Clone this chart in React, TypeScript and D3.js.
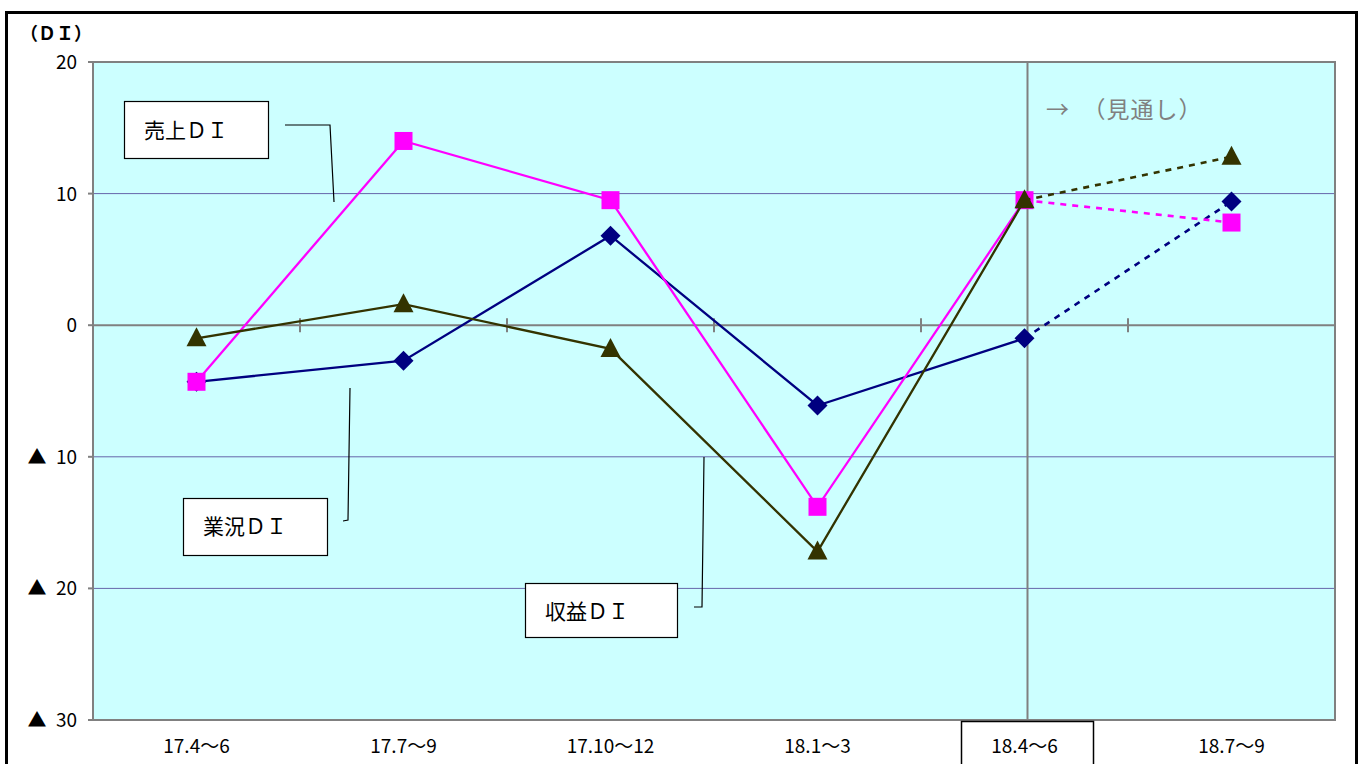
import React from 'react'
import * as d3 from 'd3'

// categories (quarters) and DI values
const periods = ['17.4～6', '17.7～9', '17.10～12', '18.1～3', '18.4～6', '18.7～9']
const gyokyoDI = [-4.3, -2.7, 6.8, -6.1, -1.0, 9.4]
const uriageDI = [-4.3, 14.0, 9.5, -13.8, 9.5, 7.8]
const shuekiDI = [-1.0, 1.6, -1.8, -17.2, 9.5, 12.8]
const yTicks = [20, 10, 0, -10, -20, -30]
const forecastFrom = '18.4～6'

const W = 1363, H = 764
const margin = { top: 62, right: 28, bottom: 44, left: 93 }
const font = '"Noto Sans CJK JP", "Noto Sans", sans-serif'

const series = [
  { name: '業況ＤＩ', values: gyokyoDI, color: '#000080', marker: 'diamond' },
  { name: '売上ＤＩ', values: uriageDI, color: '#FF00FF', marker: 'square' },
  { name: '収益ＤＩ', values: shuekiDI, color: '#333300', marker: 'triangle' },
]

function Marker({ type, x, y, color }: { type: string, x: number, y: number, color: string }) {
  if (type === 'diamond') {
    return <path d={`M${x},${y - 10}L${x + 10},${y}L${x},${y + 10}L${x - 10},${y}Z`} fill={color} />
  }
  if (type === 'square') {
    return <rect x={x - 9} y={y - 9} width={18} height={18} fill={color} />
  }
  return <path d={`M${x},${y - 11}L${x + 10},${y + 8}L${x - 10},${y + 8}Z`} fill={color} />
}

export default function App() {
  const x0 = margin.left, x1 = W - margin.right
  const y0 = margin.top, y1 = H - margin.bottom
  const x = d3.scaleBand().domain(periods).range([x0, x1])
  const y = d3.scaleLinear().domain([20, -30]).range([y0, y1])
  const cx = (p: string) => (x(p) as number) + x.bandwidth() / 2
  const fIdx = periods.indexOf(forecastFrom)
  const line = d3.line<[number, number]>().x(d => d[0]).y(d => d[1])

  const yLabel = (v: number) => (v < 0 ? `▲\u2002${-v}` : `${v}`)

  return (
    <svg width={W} height={H} style={{ position: 'absolute', left: 0, top: 0, background: '#fff' }}
      fontFamily={font}>
      {/* outer frame */}
      <rect x={6.5} y={12.5} width={1350} height={H} fill="none" stroke="#000" strokeWidth={3} />

      {/* plot area */}
      <rect x={x0} y={y0} width={x1 - x0} height={y1 - y0} fill="#CCFFFF" />
      {yTicks.filter(v => v !== 20 && v !== -30 && v !== 0).map(v => (
        <line key={v} x1={x0} x2={x1} y1={y(v)} y2={y(v)} stroke="#6666AA" strokeWidth={1} />
      ))}
      {/* zero line with category ticks */}
      <line x1={x0} x2={x1} y1={y(0)} y2={y(0)} stroke="#808080" strokeWidth={2} />
      {periods.slice(1).map(p => (
        <line key={p} x1={x(p)} x2={x(p)} y1={y(0) - 7} y2={y(0) + 7} stroke="#808080" strokeWidth={2} />
      ))}
      {/* forecast divider */}
      <line x1={cx(forecastFrom) + 3} x2={cx(forecastFrom) + 3} y1={y0} y2={y1} stroke="#808080" strokeWidth={2} />
      <rect x={x0} y={y0} width={x1 - x0} height={y1 - y0} fill="none" stroke="#808080" strokeWidth={2} />
      {yTicks.map(v => (
        <line key={v} x1={x0 - 5} x2={x0} y1={y(v)} y2={y(v)} stroke="#808080" strokeWidth={2} />
      ))}

      {/* y labels */}
      <text x={20} y={40} fontSize={18} fontWeight="bold" fill="#000">（ＤＩ）</text>
      {yTicks.map(v => (
        <text key={v} x={77} y={y(v) + 7} fontSize={19} textAnchor="end" fill="#000">{yLabel(v)}</text>
      ))}

      {/* x labels */}
      {periods.map(p => (
        <text key={p} x={cx(p)} y={753} fontSize={19} textAnchor="middle" fill="#000">{p}</text>
      ))}
      <rect x={cx(forecastFrom) - 63} y={721.5} width={132} height={50} fill="none" stroke="#000" strokeWidth={1.5} />

      <text x={1046} y={118} fontSize={23} fill="#808080" letterSpacing={1}>→　（見通し）</text>

      {/* series lines */}
      {series.map(s => {
        const pts: [number, number][] = s.values.map((v, i) => [cx(periods[i]), y(v)])
        return (
          <g key={s.name}>
            <path d={line(pts.slice(0, fIdx + 1)) as string} fill="none" stroke={s.color} strokeWidth={2.3} />
            <path d={line(pts.slice(fIdx)) as string} fill="none" stroke={s.color} strokeWidth={2.6}
              strokeDasharray="6,6" />
            {pts.map((pt, i) => <Marker key={i} type={s.marker} x={pt[0]} y={pt[1]} color={s.color} />)}
          </g>
        )
      })}

      {/* legend callouts */}
      <g fontSize={21} fill="#000">
        <rect x={124.5} y={101.5} width={144} height={57} fill="#fff" stroke="#000" strokeWidth={1.2} />
        <text x={144} y={138}>売上ＤＩ</text>
        <polyline points="285,125 330,125 334,202" fill="none" stroke="#000" strokeWidth={1.2} />

        <rect x={183.5} y={498.5} width={144} height={57} fill="#fff" stroke="#000" strokeWidth={1.2} />
        <text x={203} y={534}>業況ＤＩ</text>
        <polyline points="350,388 348,520 343,521" fill="none" stroke="#000" strokeWidth={1.2} />

        <rect x={525.5} y={583.5} width={152} height={54} fill="#fff" stroke="#000" strokeWidth={1.2} />
        <text x={545} y={619}>収益ＤＩ</text>
        <polyline points="704,457 702,607 694,607" fill="none" stroke="#000" strokeWidth={1.2} />
      </g>
    </svg>
  )
}
